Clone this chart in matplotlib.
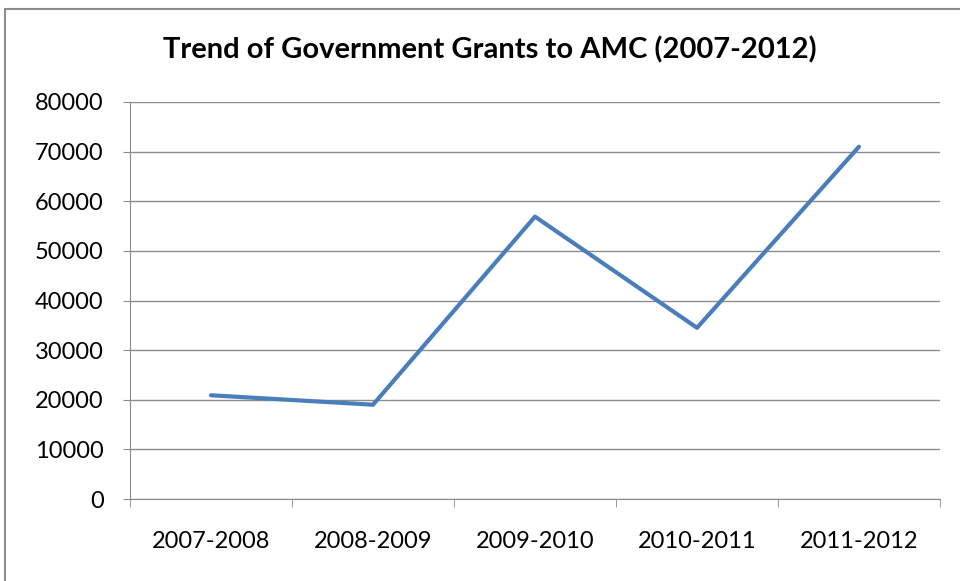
import matplotlib as mpl
mpl.use('Agg')
import matplotlib.pyplot as plt
from matplotlib.patches import Rectangle

years = ['2007-2008', '2008-2009', '2009-2010', '2010-2011', '2011-2012']
grants = [20900, 19000, 56900, 34500, 71000]
yticks = [0, 10000, 20000, 30000, 40000, 50000, 60000, 70000, 80000]

plt.rcParams['font.family'] = ['Lato', 'DejaVu Sans']

fig = plt.figure(figsize=(9.6, 5.81), dpi=100)
# chart area border (runs off right and bottom edges)
fig.patches.append(Rectangle((5/960, -0.1), 1.2, 1 - 9/581 + 0.1, transform=fig.transFigure,
                             fill=False, edgecolor='#8c8c8c', linewidth=1.5))

ax = fig.add_axes([130/960, 1 - 499/581, 810/960, (499 - 102)/581])
x = list(range(len(years)))
ax.plot(x, grants, color='#4a7ebb', linewidth=3, solid_capstyle='round', zorder=3)

ax.set_xlim(-0.5, len(years) - 0.5)
ax.set_ylim(0, 80000)
ax.set_yticks(yticks)
ax.set_yticklabels([str(v) for v in yticks], fontsize=17)
ax.set_xticks(x)
ax.set_xticklabels(years, fontsize=17)
ax.tick_params(axis='x', length=0, pad=23)
ax.set_xticks([i - 0.5 for i in range(len(years) + 1)], minor=True)
ax.tick_params(axis='x', which='minor', length=6, color='#8c8c8c', direction='out')
ax.tick_params(axis='y', length=5, color='#8c8c8c', pad=14)

ax.grid(axis='y', color='#8c8c8c', linewidth=1)
ax.set_axisbelow(True)
for s in ['top', 'right']:
    ax.spines[s].set_visible(False)
ax.spines['left'].set_color('#8c8c8c')
ax.spines['bottom'].set_color('#8c8c8c')

fig.text(490/960, 1 - 50/581, 'Trend of Government Grants to AMC (2007-2012)',
         ha='center', va='center', fontsize=21, fontweight='bold')

fig.savefig('out.png', dpi=100)
